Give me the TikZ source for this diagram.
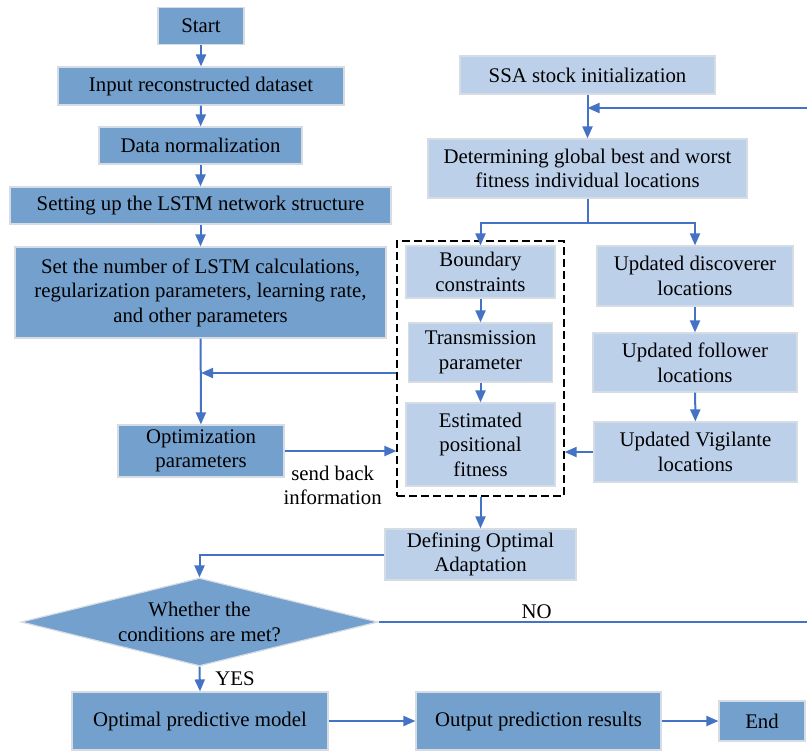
\documentclass[tikz,border=0pt]{standalone}
\usepackage{fontspec}
\setmainfont{Liberation Serif}
\usetikzlibrary{arrows.meta,shapes.geometric}
\definecolor{darkbox}{RGB}{116,160,205}
\definecolor{lightbox}{RGB}{189,208,234}
\definecolor{edgegray}{RGB}{214,220,228}
\definecolor{flow}{RGB}{68,114,196}
\tikzset{
  lstmbox/.style={draw=edgegray,line width=.6pt,fill=darkbox,align=center,inner sep=0pt},
  ssabox/.style={draw=edgegray,line width=.6pt,fill=lightbox,align=center,inner sep=0pt},
  decision/.style={diamond,draw=edgegray,line width=.6pt,fill=darkbox,inner sep=0pt,aspect=4},
  flowline/.style={draw=flow,line width=1pt,-{Triangle[length=6pt,width=5pt]}},
  plainline/.style={draw=flow,line width=1pt}
}
\begin{document}
\begin{tikzpicture}[x=.5pt,y=-.5pt,font=\fontsize{10.4}{12.3}\selectfont]
\useasboundingbox (0,0) rectangle (807,752);
% LSTM side
\node[lstmbox,minimum width=43pt,minimum height=18.5pt] (start) at (201,26) {Start};
\node[lstmbox,minimum width=143pt,minimum height=19pt] (input) at (201,86) {Input reconstructed dataset};
\node[lstmbox,minimum width=101.5pt,minimum height=18.5pt] (norm) at (200.5,145.5) {Data normalization};
\node[lstmbox,minimum width=190.5pt,minimum height=18.5pt] (net) at (200.5,205.5) {Setting up the LSTM network structure};
\node[lstmbox,minimum width=185.5pt,minimum height=45.5pt] (params) at (200.5,292.5) {Set the number of LSTM calculations,\\regularization parameters, learning rate,\\and other parameters};
\node[lstmbox,minimum width=83pt,minimum height=26pt] (optim) at (201,451) {Optimization\\parameters};
% SSA side
\node[ssabox,minimum width=127.5pt,minimum height=19pt] (ssa) at (587.5,75) {SSA stock initialization};
\node[ssabox,minimum width=159.5pt,minimum height=29.5pt] (best) at (587.5,168.5) {Determining global best and worst\\fitness individual locations};
\node[ssabox,minimum width=74.5pt,minimum height=26pt] (bound) at (480.5,272) {Boundary\\constraints};
\node[ssabox,minimum width=72pt,minimum height=29.5pt] (trans) at (480.5,352.5) {Transmission\\parameter};
\node[ssabox,minimum width=74.5pt,minimum height=41.5pt] (estim) at (480.5,444.5) {Estimated\\positional\\fitness};
\node[draw,dash pattern=on 4pt off 2pt,line width=.6pt,minimum width=83.5pt,minimum height=127.5pt] (group) at (480.5,368.5) {};
\node[ssabox,minimum width=98pt,minimum height=30pt] (disc) at (695,276) {Updated discoverer\\locations};
\node[ssabox,minimum width=102pt,minimum height=29.5pt] (foll) at (695,362.5) {Updated follower\\locations};
\node[ssabox,minimum width=101.5pt,minimum height=30pt] (vigil) at (695.5,452) {Updated Vigilante\\locations};
\node[ssabox,minimum width=95.5pt,minimum height=25.5pt] (define) at (480.5,554.5) {Defining Optimal\\Adaptation};
% decision and output
\node[decision,minimum width=178.5pt,minimum height=44pt,label={[align=center]center:Whether the\\conditions are met?}] (cond) at (199.5,622) {};
\node[lstmbox,minimum width=128pt,minimum height=29pt] (model) at (200,721) {Optimal predictive model};
\node[lstmbox,minimum width=122.5pt,minimum height=29pt] (result) at (538.5,721) {Output prediction results};
\node[lstmbox,minimum width=43pt,minimum height=20pt] (end) at (762,721) {End};
\coordinate (loop) at (830,108);
\coordinate (back) at (201,373);
\coordinate (split) at (587.5,223);
% connectors
\draw[flowline] (start) -- (input);
\draw[flowline] (input) -- (norm);
\draw[flowline] (norm) -- (net);
\draw[flowline] (net) -- (params);
\draw[flowline] (params) -- (optim);
\draw[flowline] (group.west |- back) -- (back);
\draw[flowline] (optim.east) -- node[below,pos=.43,align=center,yshift=-3.5pt] {send back\\information} (optim.east -| group.west);
\draw[flowline] (ssa) -- (best);
\draw[plainline] (best) -- (split);
\draw[flowline] (split) -| (bound.north);
\draw[flowline] (split) -| (disc.north);
\draw[flowline] (bound) -- (trans);
\draw[flowline] (trans) -- (estim);
\draw[flowline] (disc) -- (foll);
\draw[flowline] (foll) -- (vigil);
\draw[flowline] (vigil.west) -- (vigil.west -| group.east);
\draw[flowline] (estim.south |- group.south) -- (define.north);
\draw[flowline] (define.west) -| (cond.north);
\draw[flowline] (cond.south) -- node[right,xshift=4pt] {YES} (model.north);
\draw[flowline] (cond.east) -- node[above,pos=.35,yshift=-2pt] {NO} (cond.east -| loop) -- (loop) -- (ssa.south |- loop);
\draw[flowline] (model) -- (result);
\draw[flowline] (result) -- (end);
\end{tikzpicture}
\end{document}
